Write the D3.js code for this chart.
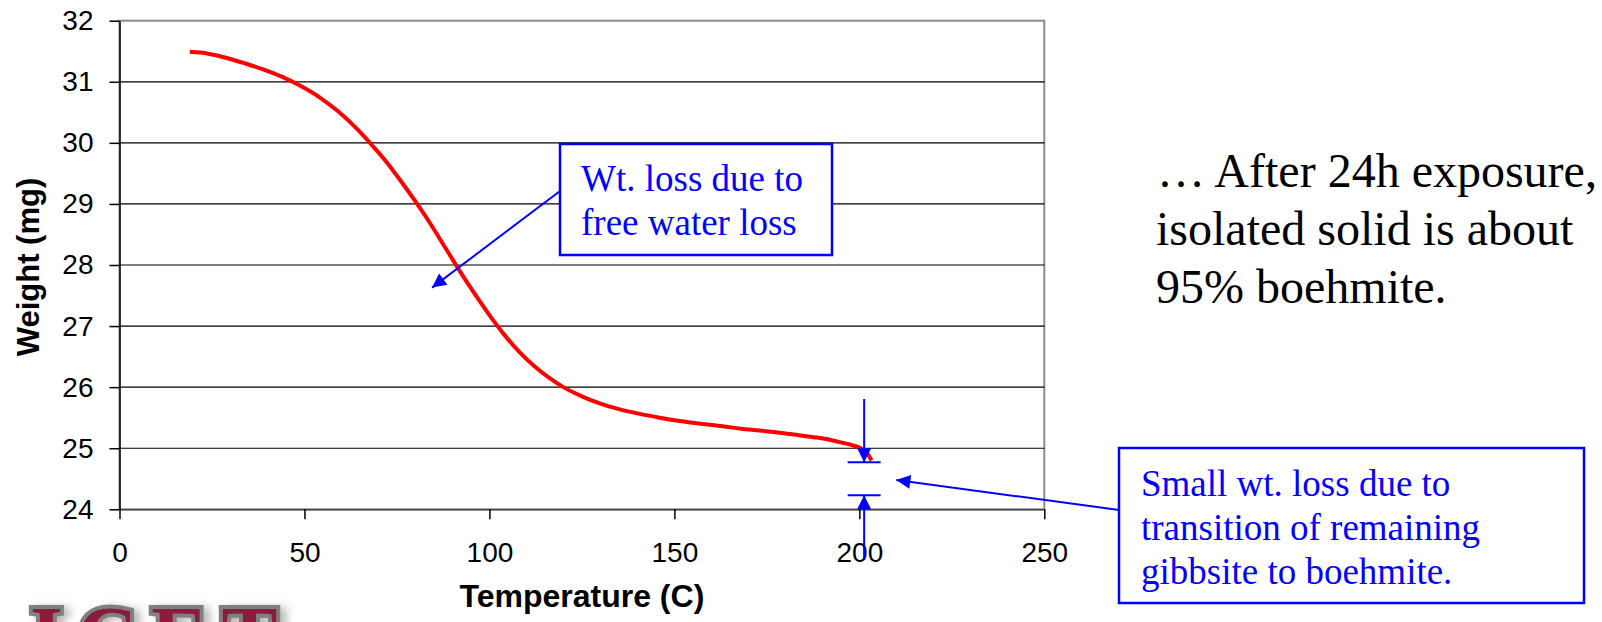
<!DOCTYPE html>
<html>
<head>
<meta charset="utf-8">
<script src="https://cdn.jsdelivr.net/npm/d3@7"></script>
<style>
  html, body { margin: 0; padding: 0; background: #fff; }
  svg { display: block; }
</style>
</head>
<body>
<svg id="chart" width="1602" height="622"></svg>
<script>
// Thermogravimetric trace: temperature (C) and sample weight (mg)
const temperature = [19, 24, 29, 34, 39, 44, 49, 54, 59, 64, 68, 72, 76, 80, 84, 88, 92, 96, 100, 104, 108, 112, 116, 120, 125, 130, 135, 140, 146, 152, 157, 163, 168, 173, 179, 184, 189, 194, 198, 200, 202, 203.3];
const weight = [31.49, 31.46, 31.39, 31.30, 31.20, 31.08, 30.93, 30.75, 30.52, 30.24, 29.98, 29.70, 29.38, 29.04, 28.68, 28.29, 27.90, 27.53, 27.18, 26.86, 26.58, 26.35, 26.16, 26.00, 25.85, 25.73, 25.64, 25.57, 25.50, 25.44, 25.40, 25.36, 25.32, 25.29, 25.25, 25.21, 25.17, 25.11, 25.05, 25.01, 24.93, 24.80];

const xTicks = [0, 50, 100, 150, 200, 250];
const yTicks = [24, 25, 26, 27, 28, 29, 30, 31, 32];

const xTitle = "Temperature (C)";
const yTitle = "Weight (mg)";
const noteFreeWater = ["Wt. loss due to", "free water loss"];
const noteTransition = ["Small wt. loss due to", "transition of remaining", "gibbsite to boehmite."];
const sideNote = ["\u2026 After 24h exposure,", "isolated solid is about", "95% boehmite."];

const svg = d3.select("#chart");
const x = d3.scaleLinear().domain([0, 250]).range([119.5, 1044.3]);
const y = d3.scaleLinear().domain([24, 32]).range([509.3, 20.7]);

const sans = "'Liberation Sans', Arial, sans-serif";
const serif = "'Liberation Serif', 'Times New Roman', serif";

const defs = svg.append("defs");

// plot frame
svg.append("rect")
  .attr("x", x(0)).attr("y", y(32))
  .attr("width", x(250) - x(0)).attr("height", y(24) - y(32))
  .attr("fill", "#fff").attr("stroke", "#8c8c8c").attr("stroke-width", 2);

// horizontal gridlines
svg.append("g").selectAll("line")
  .data(yTicks.filter(v => v > 24 && v < 32))
  .join("line")
  .attr("x1", x(0)).attr("x2", x(250))
  .attr("y1", d => y(d)).attr("y2", d => y(d))
  .attr("stroke", "#000").attr("stroke-width", 1.2);

// axes
const yAxis = svg.append("g")
  .attr("transform", `translate(${x(0)},0)`)
  .call(d3.axisLeft(y).tickValues(yTicks).tickSize(10).tickPadding(16).tickSizeOuter(0));
const xAxis = svg.append("g")
  .attr("transform", `translate(0,${y(24)})`)
  .call(d3.axisBottom(x).tickValues(xTicks).tickSize(10).tickPadding(23).tickSizeOuter(0));

[yAxis, xAxis].forEach(g => {
  g.select(".domain").attr("stroke", "#000").attr("stroke-width", 1.5);
  g.selectAll(".tick line").attr("stroke", "#000").attr("stroke-width", 1.5);
  g.selectAll(".tick text").attr("font-family", sans).attr("font-size", 28).attr("fill", "#000");
});
xAxis.select(".domain").attr("stroke", "#444");

// axis titles
svg.append("text")
  .attr("x", (x(0) + x(250)) / 2).attr("y", 607)
  .attr("text-anchor", "middle")
  .attr("font-family", sans).attr("font-weight", "bold").attr("font-size", 32)
  .text(xTitle);
svg.append("text")
  .attr("transform", `translate(39,${(y(24) + y(32)) / 2 + 2}) rotate(-90)`)
  .attr("text-anchor", "middle")
  .attr("font-family", sans).attr("font-weight", "bold").attr("font-size", 31)
  .text(yTitle);

// weight curve
const pts = temperature.map((t, i) => [t, weight[i]]);
svg.append("path")
  .datum(pts)
  .attr("fill", "none").attr("stroke", "#ff0000").attr("stroke-width", 4)
  .attr("stroke-linejoin", "round")
  .attr("d", d3.line().x(d => x(d[0])).y(d => y(d[1])).curve(d3.curveMonotoneX));

// arrow marker
defs.append("marker")
  .attr("id", "headBig").attr("viewBox", "0 0 10 10")
  .attr("refX", 10).attr("refY", 5)
  .attr("markerWidth", 16).attr("markerHeight", 14)
  .attr("markerUnits", "userSpaceOnUse")
  .attr("orient", "auto")
  .append("path").attr("d", "M0,0 L10,5 L0,10 Z").attr("fill", "#0000ff");

const blue = "#0000ff";

// free water callout arrow
svg.append("line")
  .attr("x1", 580).attr("y1", 176)
  .attr("x2", x(84.5)).attr("y2", y(27.63))
  .attr("stroke", blue).attr("stroke-width", 2)
  .attr("marker-end", "url(#headBig)");

// gap bracket near 200 C
const bx = x(201.3), barHalf = 16.5;
const yTopBar = y(24.77), yBotBar = y(24.23);
svg.append("line").attr("x1", bx).attr("x2", bx).attr("y1", 399).attr("y2", yTopBar)
  .attr("stroke", blue).attr("stroke-width", 2).attr("marker-end", "url(#headBig)");
svg.append("line").attr("x1", bx).attr("x2", bx).attr("y1", 560).attr("y2", yBotBar)
  .attr("stroke", blue).attr("stroke-width", 2).attr("marker-end", "url(#headBig)");
[yTopBar, yBotBar].forEach(yy => {
  svg.append("line").attr("x1", bx - barHalf).attr("x2", bx + barHalf)
    .attr("y1", yy).attr("y2", yy).attr("stroke", blue).attr("stroke-width", 2);
});

// transition callout arrow
svg.append("line")
  .attr("x1", 1119).attr("y1", 510)
  .attr("x2", x(210)).attr("y2", y(24.48))
  .attr("stroke", blue).attr("stroke-width", 2)
  .attr("marker-end", "url(#headBig)");

// callout boxes
function callout(bx0, by0, w, h, lines, tx, ty0) {
  svg.append("rect").attr("x", bx0).attr("y", by0).attr("width", w).attr("height", h)
    .attr("fill", "#fff").attr("stroke", blue).attr("stroke-width", 2.5);
  svg.append("text")
    .attr("font-family", serif).attr("font-size", 37).attr("fill", blue)
    .selectAll("tspan").data(lines).join("tspan")
    .attr("x", tx).attr("y", (d, i) => ty0 + i * 44)
    .text(d => d);
}
callout(560, 144, 272, 111, noteFreeWater, 581, 191);
callout(1119, 448, 465, 155, noteTransition, 1141, 496);

// side note
svg.append("text")
  .attr("font-family", serif).attr("font-size", 48).attr("fill", "#000")
  .selectAll("tspan").data(sideNote).join("tspan")
  .attr("x", (d, i) => i === 0 ? 1157 : 1156).attr("y", (d, i) => 187 + i * 58)
  .text(d => d);

// logo lettering along the bottom edge, with a soft drop shadow
const shadow = defs.append("filter").attr("id", "logoShadow")
  .attr("x", "-10%").attr("y", "-30%").attr("width", "130%").attr("height", "160%");
shadow.append("feDropShadow")
  .attr("dx", 6).attr("dy", 2).attr("stdDeviation", 4)
  .attr("flood-color", "#888").attr("flood-opacity", 0.6);

svg.append("text")
  .attr("x", 30).attr("y", 665)
  .attr("font-family", serif).attr("font-weight", "bold").attr("font-size", 84)
  .attr("fill", "#8b1a3a").attr("stroke", "#808080").attr("stroke-width", 8)
  .attr("paint-order", "stroke")
  .attr("letter-spacing", 14)
  .attr("filter", "url(#logoShadow)")
  .text("ICET");
</script>
</body>
</html>
